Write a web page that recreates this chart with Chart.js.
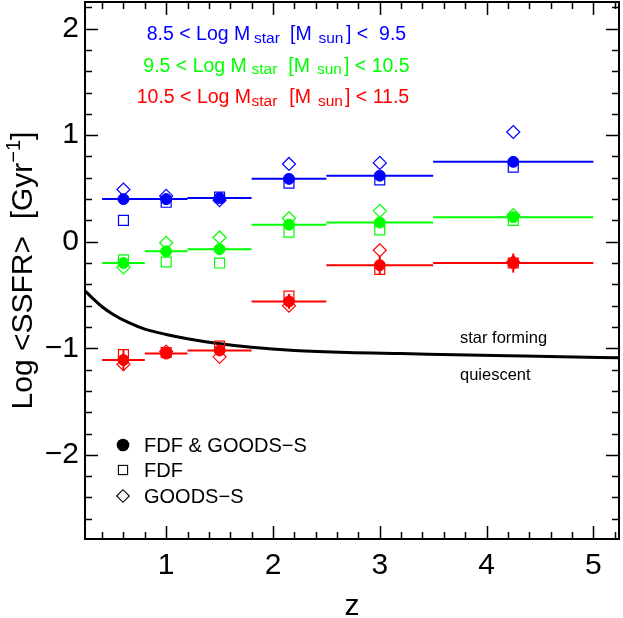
<!DOCTYPE html>
<html><head><meta charset="utf-8">
<script src="https://cdn.jsdelivr.net/npm/chart.js@4.4.1/dist/chart.umd.min.js"></script>
<style>html,body{margin:0;padding:0;background:#fff}canvas{display:block}</style>
</head><body>
<canvas id="c" width="623" height="618"></canvas>
<script>
// ---------------- data ----------------
const zMid  = [0.6, 1.0, 1.5, 2.15, 3.0, 4.25];
const binLo = [0.4, 0.8, 1.2, 1.8, 2.5, 3.5];
const binHi = [0.8, 1.2, 1.8, 2.5, 3.5, 5.0];

const lowAll   = [0.40, 0.40, 0.41, 0.59, 0.62, 0.75];
const lowFDF   = [0.20, 0.37, 0.42, 0.55, 0.58, 0.70];
const lowGOODS = [0.49, 0.43, 0.39, 0.73, 0.74, 1.03];
const lowErr   = [0.03, 0.03, 0.03, 0.03, 0.03, 0.03];

const midAll   = [-0.20, -0.09, -0.07, 0.16, 0.18, 0.23];
const midFDF   = [-0.17, -0.19, -0.20, 0.09, 0.11, 0.20];
const midGOODS = [-0.24, -0.01, 0.04, 0.22, 0.29, 0.25];
const midErr   = [0.03, 0.03, 0.03, 0.03, 0.03, 0.03];

const highAll   = [-1.11, -1.05, -1.02, -0.56, -0.22, -0.20];
const highFDF   = [-1.06, -1.04, -0.98, -0.51, -0.26, -0.20];
const highGOODS = [-1.15, -1.03, -1.08, -0.60, -0.08, -0.19];
const highErr   = [0.10, 0.04, 0.05, 0.07, 0.09, 0.09];

const curveZ = [0.24, 0.30, 0.40, 0.50, 0.65, 0.80, 1.00, 1.20, 1.45, 1.80, 2.20, 2.70, 3.20, 3.70, 4.20, 4.70, 5.24];
const curveY = [-0.46, -0.52, -0.61, -0.68, -0.76, -0.82, -0.87, -0.91, -0.95, -0.99, -1.02, -1.04, -1.05, -1.06, -1.07, -1.08, -1.09];

const xTickValues = [1, 2, 3, 4, 5];
const yTickValues = [-2, -1, 0, 1, 2];
const massLow  = ['8.5 < Log M', 'star', '[M', 'sun', '] <  9.5'];
const massMid  = ['9.5 < Log M', 'star', '[M', 'sun', '] < 10.5'];
const massHigh = ['10.5 < Log M', 'star', '[M', 'sun', '] < 11.5'];
const legendLabels = ['FDF & GOODS\u2212S', 'FDF', 'GOODS\u2212S'];
const regionLabels = ['star forming', 'quiescent'];
const xTitle = 'z';
const yTitleParts = ['Log <SSFR>  [Gyr', '\u22121', ']'];

// ---------------- styling ----------------
const FONT = '"Liberation Sans", Arial, Helvetica, sans-serif';
const BLUE = '#0000ff', GREEN = '#00ff00', RED = '#ff0000';
const groups = [
  {color: BLUE,  all: lowAll,  fdf: lowFDF,  goods: lowGOODS,  err: lowErr},
  {color: GREEN, all: midAll,  fdf: midFDF,  goods: midGOODS,  err: midErr},
  {color: RED,   all: highAll, fdf: highFDF, goods: highGOODS, err: highErr}
];
const pts = arr => zMid.map((z, i) => ({x: z, y: arr[i]}));
const segs = arr => {
  const out = [];
  arr.forEach((v, i) => { out.push({x: binLo[i], y: v}, {x: binHi[i], y: v}, {x: binHi[i], y: null}); });
  return out;
};

const datasets = [];
groups.forEach(g => datasets.push({data: pts(g.all), pointStyle: 'circle', pointRadius: 5.5, borderWidth: 1,
  backgroundColor: g.color, borderColor: g.color, showLine: false}));
groups.forEach(g => datasets.push({data: pts(g.fdf), pointStyle: 'rect', pointRadius: 7, borderWidth: 1.2,
  backgroundColor: 'rgba(0,0,0,0)', borderColor: g.color, showLine: false}));
groups.forEach(g => datasets.push({data: pts(g.goods), pointStyle: 'rectRot', pointRadius: 6.5, borderWidth: 1.2,
  backgroundColor: 'rgba(0,0,0,0)', borderColor: g.color, showLine: false}));
groups.forEach(g => datasets.push({data: segs(g.all), showLine: true, pointRadius: 0, borderWidth: 2,
  borderColor: g.color, backgroundColor: g.color, spanGaps: false}));
datasets.push({data: curveZ.map((z, i) => ({x: z, y: curveY[i]})), showLine: true, pointRadius: 0,
  borderWidth: 3, borderColor: '#000', cubicInterpolationMode: 'monotone'});

// ---------------- plugin: frame, ticks, texts ----------------
const deco = {
  id: 'deco',
  afterDatasetsDraw(chart) {
    const {ctx, scales: {x, y}} = chart;
    const a = chart.chartArea;
    ctx.save();
    ctx.beginPath(); ctx.rect(a.left, a.top, a.right - a.left, a.bottom - a.top); ctx.clip();
    groups.forEach(g => {
      ctx.strokeStyle = g.color; ctx.lineWidth = 2;
      zMid.forEach((z, i) => {
        const px = x.getPixelForValue(z);
        ctx.beginPath();
        ctx.moveTo(px, y.getPixelForValue(g.all[i] - g.err[i]));
        ctx.lineTo(px, y.getPixelForValue(g.all[i] + g.err[i]));
        ctx.stroke();
      });
    });
    ctx.restore();
  },
  afterDraw(chart) {
    const {ctx, scales: {x, y}} = chart;
    const a = chart.chartArea;
    ctx.save();
    // frame
    ctx.strokeStyle = '#000'; ctx.lineWidth = 2;
    ctx.strokeRect(a.left, a.top, a.right - a.left, a.bottom - a.top);
    // ticks
    ctx.lineWidth = 1.5;
    const MAJ = 13, MIN = 7;
    for (let k = -30; k <= 30; k++) {
      const v = k / 5;
      const isMaj = k % 5 === 0;
      const L = isMaj ? MAJ : MIN;
      if (v > x.min + 1e-6 && v < x.max - 1e-6) {
        const px = Math.round(x.getPixelForValue(v)) + 0.5;
        ctx.beginPath();
        ctx.moveTo(px, a.bottom); ctx.lineTo(px, a.bottom - L);
        ctx.moveTo(px, a.top); ctx.lineTo(px, a.top + L);
        ctx.stroke();
      }
      if (v > y.min + 1e-6 && v < y.max - 1e-6) {
        const py = Math.round(y.getPixelForValue(v)) + 0.5;
        ctx.beginPath();
        ctx.moveTo(a.left, py); ctx.lineTo(a.left + L, py);
        ctx.moveTo(a.right, py); ctx.lineTo(a.right - L, py);
        ctx.stroke();
      }
    }
    // mass-bin labels (top)
    const lines = [
      {parts: massLow, color: BLUE, base: 40, xs: [146.7, 254, 290, 318.5, 346]},
      {parts: massMid, color: GREEN, base: 71.5, xs: [143.3, 251.5, 288.3, 317, 344]},
      {parts: massHigh, color: RED, base: 103.3, xs: [136.7, 251.5, 289.3, 318, 345]}
    ];
    ctx.textBaseline = 'alphabetic'; ctx.textAlign = 'left';
    lines.forEach(l => {
      ctx.fillStyle = l.color;
      l.parts.forEach((t, i) => {
        const sub = (i === 1 || i === 3);
        ctx.font = (sub ? '15.5px ' : '19.5px ') + FONT;
        ctx.fillText(t, l.xs[i], l.base + (sub ? 2.5 : 0));
      });
    });
    // region labels
    ctx.fillStyle = '#000';
    ctx.font = '16.5px ' + FONT;
    ctx.fillText(regionLabels[0], 460, 343);
    ctx.fillText(regionLabels[1], 460, 380);
    // symbol legend
    const lx = 123, tx = 144, rows = [445, 470, 496], bases = [451.7, 476.7, 503.3];
    ctx.strokeStyle = '#000'; ctx.fillStyle = '#000'; ctx.lineWidth = 1.1;
    ctx.beginPath(); ctx.arc(lx, rows[0], 6.3, 0, Math.PI * 2); ctx.fill();
    ctx.strokeRect(lx - 4.6, rows[1] - 4.6, 9.2, 9.2);
    ctx.beginPath(); ctx.moveTo(lx - 6.3, rows[2]); ctx.lineTo(lx, rows[2] - 6.3);
    ctx.lineTo(lx + 6.3, rows[2]); ctx.lineTo(lx, rows[2] + 6.3); ctx.closePath(); ctx.stroke();
    ctx.font = '20px ' + FONT;
    legendLabels.forEach((t, i) => ctx.fillText(t, tx, bases[i]));
    // x title
    ctx.font = '30px ' + FONT; ctx.textAlign = 'center';
    ctx.fillText(xTitle, (a.left + a.right) / 2, 615);
    // y title (rotated, with superscript)
    ctx.textAlign = 'left';
    const f1 = '30px ' + FONT, f2 = '20px ' + FONT;
    ctx.font = f1; const w0 = ctx.measureText(yTitleParts[0]).width, w2 = ctx.measureText(yTitleParts[2]).width;
    ctx.font = f2; const w1 = ctx.measureText(yTitleParts[1]).width;
    const tot = w0 + w1 + w2;
    ctx.translate(32, (a.top + a.bottom) / 2);
    ctx.rotate(-Math.PI / 2);
    let cx = -tot / 2;
    ctx.font = f1; ctx.fillText(yTitleParts[0], cx, 0); cx += w0;
    ctx.font = f2; ctx.fillText(yTitleParts[1], cx, -12); cx += w1;
    ctx.font = f1; ctx.fillText(yTitleParts[2], cx, 0);
    ctx.restore();
  }
};

const zeroPad = () => ({left: 0, top: 0, right: 0, bottom: 0});

new Chart(document.getElementById('c'), {
  type: 'scatter',
  data: {datasets},
  options: {
    responsive: false,
    animation: false,
    devicePixelRatio: 1,
    layout: {autoPadding: false, padding: {left: 0, right: 4, top: 2, bottom: 0}},
    plugins: {legend: {display: false}, tooltip: {enabled: false}},
    scales: {
      x: {
        type: 'linear', min: 0.24, max: 5.24,
        grid: {display: false, drawTicks: false}, border: {display: false},
        ticks: {font: {family: FONT, size: 30}, color: '#000', padding: 9, maxRotation: 0, autoSkip: false,
          callback: v => String(v)},
        afterBuildTicks: s => { s.ticks = xTickValues.map(v => ({value: v})); },
        afterFit: s => { s.height = 79; s.paddingLeft = 0; s.paddingRight = 0; s.paddingTop = 0; s.paddingBottom = 0; s.getPadding = zeroPad; }
      },
      y: {
        type: 'linear', min: -2.79, max: 2.25,
        grid: {display: false, drawTicks: false}, border: {display: false},
        ticks: {font: {family: FONT, size: 30}, color: '#000', padding: 6, autoSkip: false,
          callback: v => (v < 0 ? '\u2212' + Math.abs(v) : String(v))},
        afterBuildTicks: s => { s.ticks = yTickValues.map(v => ({value: v})); },
        afterFit: s => { s.width = 85; s.paddingLeft = 0; s.paddingRight = 0; s.paddingTop = 0; s.paddingBottom = 0; s.getPadding = zeroPad; }
      }
    }
  },
  plugins: [deco]
});
</script>
</body></html>
